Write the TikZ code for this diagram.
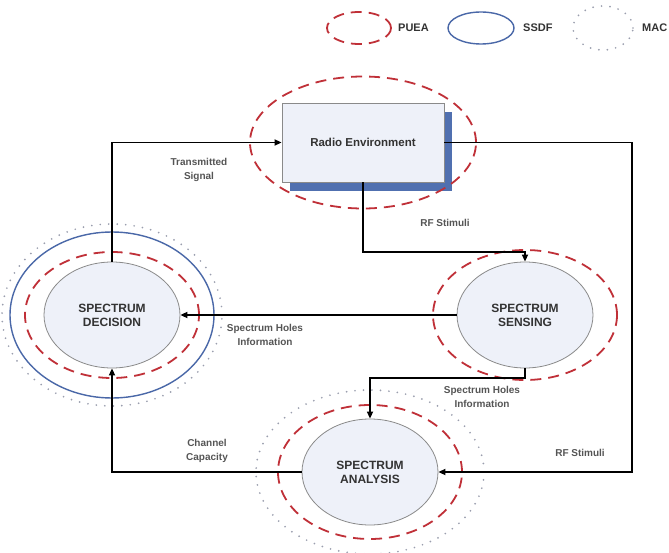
\documentclass[tikz,border=0pt]{standalone}
\usepackage{fontspec}
\setmainfont{Liberation Sans}
\usetikzlibrary{arrows.meta,shapes.geometric,shadows}
\definecolor{pueared}{HTML}{C03038}
\definecolor{ssdfblue}{HTML}{4A68A8}
\definecolor{macgray}{HTML}{9A9EAE}
\definecolor{nodefill}{HTML}{EEF1F9}
\definecolor{nodeedge}{HTML}{8A8A8A}
\definecolor{shadowblue}{HTML}{5070B0}
\definecolor{txt}{HTML}{333333}
\definecolor{lbltxt}{HTML}{555555}
\tikzset{
  puea/.style={draw=pueared, line width=1.8pt, dash pattern=on 11pt off 7pt},
  ssdf/.style={draw=ssdfblue, line width=1.4pt},
  mac/.style={draw=macgray, line width=1.9pt, line cap=round, dash pattern=on 0pt off 8.5pt},
  blob/.style={ellipse, draw=nodeedge, fill=nodefill, line width=0.8pt, minimum width=136pt, minimum height=106pt, inner sep=0pt, font=\fontsize{12}{14}\selectfont\bfseries, text=txt, align=center},
  radiobox/.style={rectangle, draw=nodeedge, fill=nodefill, line width=0.8pt, minimum width=162pt, minimum height=79pt, font=\fontsize{11.5}{13}\selectfont\bfseries, text=txt, general shadow={fill=shadowblue, shadow xshift=8pt, shadow yshift=-9pt}},
  conn/.style={draw=black, line width=1.6pt, -{Triangle[length=7pt,width=6pt]}},
  lbl/.style={font=\fontsize{10}{13.5}\selectfont\bfseries, text=lbltxt, align=center, inner sep=1pt},
  legtxt/.style={font=\fontsize{11}{12}\selectfont\bfseries, text=txt, anchor=west, inner sep=0pt}
}
\begin{document}
\begin{tikzpicture}[x=1pt,y=-1pt]
\useasboundingbox[fill=white] (0,0) rectangle (669,553);
% legend
\draw[puea] (359,28) ellipse [x radius=32pt, y radius=16pt];
\node[legtxt] (lp) at (398,28) {PUEA};
\draw[ssdf] (481,28) ellipse [x radius=33pt, y radius=16pt];
\node[legtxt] (ls) at (523,28) {SSDF};
\draw[mac] (603,28) ellipse [x radius=30pt, y radius=22pt];
\node[legtxt] (lm) at (642,28) {MAC};
% nodes
\node[radiobox] (radio) at (363,142.5) {Radio Environment};
\node[blob] (dec) at (112,315) {SPECTRUM\\DECISION};
\node[blob] (sen) at (525,315) {SPECTRUM\\SENSING};
\node[blob] (ana) at (370,472) {SPECTRUM\\ANALYSIS};
% rings
\draw[puea] (radio.center) ellipse [x radius=113pt, y radius=66pt];
\draw[mac] (dec.center) ellipse [x radius=110pt, y radius=91pt];
\draw[ssdf] (dec.center) ellipse [x radius=102pt, y radius=83pt];
\draw[puea] (dec.center) ellipse [x radius=87pt, y radius=63pt];
\draw[puea] (sen.center) ellipse [x radius=92pt, y radius=65pt];
\draw[mac] (ana.center) ellipse [x radius=114pt, y radius=82pt];
\draw[puea] (ana.center) ellipse [x radius=92pt, y radius=67pt];
% connectors
\coordinate (re) at (632,142.5);
\coordinate (ra) at (632,472);
\coordinate (rfb) at (450,252);
\coordinate (shb) at (450,378);
\draw[conn] (dec.north) |- (radio.west);
\draw[conn] (radio.east) -- (re) -- (ra) -- (ana.east);
\draw[conn] (radio.south) |- (rfb) -| (sen.north);
\draw[conn] (sen.west) -- (dec.east);
\draw[conn] (sen.south) |- (shb) -| (ana.north);
\draw[conn] (ana.west) -| (dec.south);
% labels
\node[lbl] (l1) at (199,170) {Transmitted\\Signal};
\node[lbl] (l2) at (445,223) {RF Stimuli};
\node[lbl] (l3) at (265,335) {Spectrum Holes\\Information};
\node[lbl] (l4) at (482,397) {Spectrum Holes\\Information};
\node[lbl] (l5) at (207,451) {Channel\\Capacity};
\node[lbl] (l6) at (580,453) {RF Stimuli};
\end{tikzpicture}
\end{document}
